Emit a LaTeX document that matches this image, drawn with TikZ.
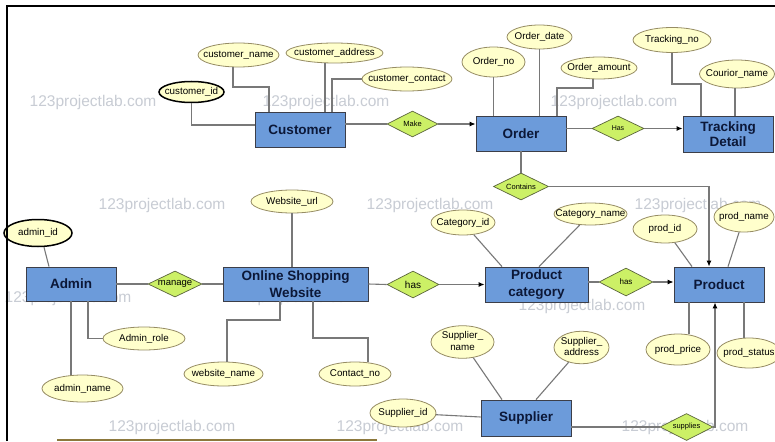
\documentclass[tikz,border=0pt]{standalone}
\usepackage{fontspec}
\setmainfont{Liberation Sans}
\usetikzlibrary{shapes.geometric,arrows.meta}
\definecolor{entblue}{RGB}{108,155,218}
\definecolor{entborder}{RGB}{60,62,72}
\definecolor{enttext}{RGB}{12,24,56}
\definecolor{relgreen}{RGB}{204,240,102}
\definecolor{relborder}{RGB}{90,100,60}
\definecolor{attrfill}{RGB}{255,255,204}
\definecolor{attrborder}{RGB}{150,140,100}
\definecolor{linecol}{RGB}{120,120,120}
\definecolor{wmcol}{RGB}{200,204,212}
\definecolor{olive}{RGB}{140,120,60}
\newcommand{\zt}[1]{\makebox[0pt]{#1}}
\newcommand{\zz}[2]{\makebox[0pt]{\begin{tabular}{@{}c@{}}#1\\#2\end{tabular}}}
\begin{document}
\begin{tikzpicture}[x=1pt,y=-1pt,
  entity/.style={rectangle, draw=entborder, line width=0.8pt, fill=entblue, inner sep=0pt, align=center, text=enttext, font=\bfseries\fontsize{13.5}{16.5}\selectfont},
  rel/.style={diamond, draw=relborder, line width=0.7pt, fill=relgreen, inner sep=0pt, text=black},
  attr/.style={ellipse, draw=attrborder, line width=0.8pt, fill=attrfill, inner sep=0pt, text=black, font=\fontsize{9.8}{11.5}\selectfont},
  keyattr/.style={attr, draw=black, line width=1.5pt},
  conn/.style={draw=linecol, line width=1.1pt},
  arr/.style={conn, -{Latex[length=6pt,width=5pt,color=black]}},
  wm/.style={text=wmcol, inner sep=0pt, font=\fontsize{15.5}{18}\selectfont}]
\useasboundingbox (0,0) rectangle (775,441);
\fill[white] (0,0) rectangle (775,441);
% watermarks
\node[wm] (w1) at (93,102) {123projectlab.com};
\node[wm] (w2) at (326,102) {123projectlab.com};
\node[wm] (w3) at (614,102) {123projectlab.com};
\node[wm] (w4) at (162,205) {123projectlab.com};
\node[wm] (w5) at (430,205) {123projectlab.com};
\node[wm] (w6) at (698,205) {123projectlab.com};
\node[wm] (w7) at (68,298) {123projectlab.com};
\node[wm] (w8) at (295,298) {123projectlab.com};
\node[wm] (w9) at (582,306) {123projectlab.com};
\node[wm] (w10) at (172,427) {123projectlab.com};
\node[wm] (w11) at (400,427) {123projectlab.com};
\node[wm] (w12) at (685,427) {123projectlab.com};
% entities
\node[entity, minimum width=90pt, minimum height=35pt] (cust) at (300,129.5) {Customer};
\node[entity, minimum width=90pt, minimum height=35pt] (order) at (521,133.5) {Order};
\node[entity, minimum width=90pt, minimum height=36pt, font=\bfseries\fontsize{13.5}{15.5}\selectfont] (track) at (728,134) {Tracking\\Detail};
\node[entity, minimum width=90pt, minimum height=34pt] (admin) at (71,284) {Admin};
\node[entity, minimum width=145pt, minimum height=34pt, font=\bfseries\fontsize{13.5}{17.5}\selectfont] (osw) at (295.5,284) {Online Shopping\\Website};
\node[entity, minimum width=103pt, minimum height=35pt] (pcat) at (536.5,284.5) {Product\\category};
\node[entity, minimum width=90pt, minimum height=35pt] (prod) at (719,284.5) {Product};
\node[entity, minimum width=90pt, minimum height=36pt] (supp) at (526,418) {Supplier};
% relationships
\node[rel, minimum width=51pt, minimum height=26pt, font=\fontsize{7.5}{9}\selectfont] (make) at (412.5,124) {\zt{Make}};
\node[rel, minimum width=52pt, minimum height=25pt, font=\fontsize{7}{8}\selectfont] (hasT) at (618,128.5) {\zt{Has}};
\node[rel, minimum width=55pt, minimum height=27pt, font=\fontsize{7.5}{9}\selectfont] (contains) at (521,186.5) {\zt{Contains}};
\node[rel, minimum width=54pt, minimum height=26pt, font=\fontsize{9.5}{11}\selectfont] (manage) at (175,284) {\zt{manage}};
\node[rel, minimum width=52pt, minimum height=27pt, font=\fontsize{10}{12}\selectfont] (has1) at (413,284.5) {\zt{has}};
\node[rel, minimum width=54pt, minimum height=28pt, font=\fontsize{8}{9}\selectfont] (has2) at (626,282) {\zt{has}};
\node[rel, minimum width=53pt, minimum height=27pt, font=\fontsize{7.5}{9}\selectfont] (supplies) at (686.5,427) {\zt{supplies}};
% attributes
\node[keyattr, minimum width=65pt, minimum height=21pt] (cid) at (191.5,92) {\zt{customer\_id}};
\node[attr, minimum width=81pt, minimum height=24pt] (cname) at (238.5,55) {\zt{customer\_name}};
\node[attr, minimum width=97pt, minimum height=20pt] (caddr) at (334.5,53) {\zt{customer\_address}};
\node[attr, minimum width=90pt, minimum height=24pt] (ccontact) at (407,79) {\zt{customer\_contact}};
\node[attr, minimum width=63pt, minimum height=30pt] (ono) at (493.5,62) {\zt{Order\_no}};
\node[attr, minimum width=65pt, minimum height=24pt] (odate) at (539.5,37) {\zt{Order\_date}};
\node[attr, minimum width=76pt, minimum height=22pt] (oamt) at (599,68) {\zt{Order\_amount}};
\node[attr, minimum width=78pt, minimum height=25pt] (tno) at (672,40) {\zt{Tracking\_no}};
\node[attr, minimum width=75pt, minimum height=28pt] (cour) at (737,74) {\zt{Courior\_name}};
\node[keyattr, minimum width=68pt, minimum height=27pt] (aid) at (38,233) {\zt{admin\_id}};
\node[attr, minimum width=82pt, minimum height=23pt] (arole) at (144,338.5) {\zt{Admin\_role}};
\node[attr, minimum width=81pt, minimum height=27pt] (aname) at (82.5,388.5) {\zt{admin\_name}};
\node[attr, minimum width=82pt, minimum height=23pt] (wurl) at (292,201.5) {\zt{Website\_url}};
\node[attr, minimum width=79pt, minimum height=24pt] (wname) at (223.5,374) {\zt{website\_name}};
\node[attr, minimum width=72pt, minimum height=24pt] (cno) at (355,374) {\zt{Contact\_no}};
\node[attr, minimum width=64pt, minimum height=25pt] (catid) at (463,222.5) {\zt{Category\_id}};
\node[attr, minimum width=73pt, minimum height=22pt] (catname) at (590.5,214) {\zt{Category\_name}};
\node[attr, minimum width=64pt, minimum height=28pt] (pid) at (665,229) {\zt{prod\_id}};
\node[attr, minimum width=60pt, minimum height=30pt] (pname) at (744,217) {\zt{prod\_name}};
\node[attr, minimum width=64pt, minimum height=31pt] (pprice) at (678,349.5) {\zt{prod\_price}};
\node[attr, minimum width=64pt, minimum height=30pt] (pstatus) at (749,353) {\zt{prod\_status}};
\node[attr, minimum width=63pt, minimum height=30pt] (sname) at (462.5,342) {\zz{Supplier\_}{name}};
\node[attr, minimum width=55pt, minimum height=26pt] (saddr) at (581.5,347.5) {\zz{Supplier\_}{address}};
\node[attr, minimum width=66pt, minimum height=28pt] (sid) at (403,413) {\zt{Supplier\_id}};
% connectors
\draw[conn] (cid.south) |- ([yshift=4.5pt]cust.west);
\draw[conn] ([xshift=-5.5pt]cname.south) -- (233,87) -| ([xshift=-31pt]cust.north);
\draw[conn] ([xshift=-9.5pt]caddr.south) -- ([xshift=25pt]cust.north);
\draw[conn] (ccontact.west) -| ([xshift=32pt]cust.north);
\draw[conn] (make.west -| cust.east) -- (make.west);
\draw[arr] (make.east) -- (make.east -| order.west);
\draw[conn] (ono.south) -- (ono.south |- order.north);
\draw[conn] (odate.south) -- (odate.south |- order.north);
\draw[conn] ([xshift=-6pt]oamt.south) -- (593,88) -| ([xshift=36pt]order.north);
\draw[conn] (hasT.west -| order.east) -- (hasT.west);
\draw[arr] (hasT.east) -- (hasT.east -| track.west);
\draw[conn] (tno.south) -- (672,84) -| ([xshift=-27pt]track.north);
\draw[conn] ([xshift=-2pt]cour.south) -- ([xshift=7pt]track.north);
\draw[conn] (order.south) -- (contains.north);
\draw[arr] (contains.east) -| ([xshift=-10pt]prod.north);
\draw[conn] ([xshift=6pt]aid.south) -- ([xshift=-22pt]admin.north);
\draw[conn] ([xshift=17pt]admin.south) |- (arole.west);
\draw[conn] (admin.south) -- (admin.south |- aname.north);
\draw[conn] (admin.east) -- (manage.west);
\draw[conn] (manage.east) -- (osw.west);
\draw[conn] (wurl.south) -- (wurl.south |- osw.north);
\draw[conn] ([xshift=-15.5pt]osw.south) -- (280,320) -| ([xshift=3.5pt]wname.north);
\draw[conn] ([xshift=17.5pt]osw.south) -- (313,338) -| ([xshift=13pt]cno.north);
\draw[conn] (osw.east) -- (has1.west);
\draw[arr] (has1.east) -- (pcat.west);
\draw[conn] (catid) -- ([xshift=-34.5pt]pcat.north);
\draw[conn] (catname) -- ([xshift=2.5pt]pcat.north);
\draw[conn] (has2.west -| pcat.east) -- (has2.west);
\draw[arr] (has2.east) -- (has2.east -| prod.west);
\draw[conn] (pid) -- ([xshift=-27pt]prod.north);
\draw[conn] (pname) -- ([xshift=9pt]prod.north);
\draw[conn] ([xshift=-30pt]prod.south) -- ([xshift=-30pt]prod.south |- pprice.north);
\draw[conn] ([xshift=25pt]prod.south) -- ([xshift=25pt]prod.south |- pstatus.north);
\draw[conn] (sname) -- ([xshift=-24pt]supp.north);
\draw[conn] (saddr) -- ([xshift=10pt]supp.north);
\draw[conn] (sid) -- ([yshift=1pt]supp.west);
\draw[conn] (supplies.west -| supp.east) -- (supplies.west);
\draw[arr] (supplies.east) -| ([xshift=-4pt]prod.south);
% frame
\draw[line width=2pt, black] (6.5,441) -- (6.5,6) -- (775,6);
\draw[line width=2pt, olive] (57,439.5) -- (377,439.5);
\end{tikzpicture}
\end{document}
